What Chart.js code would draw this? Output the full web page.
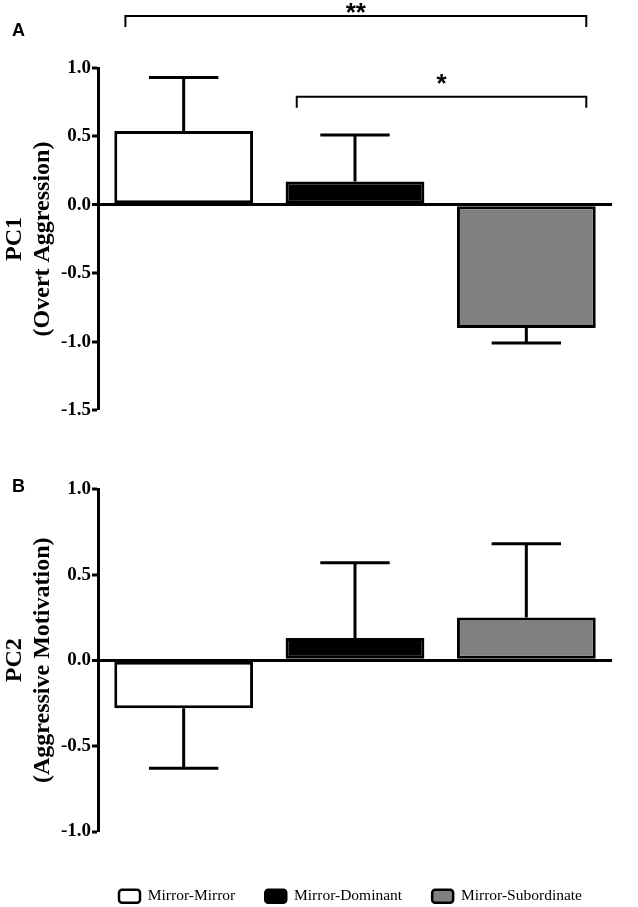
<!DOCTYPE html>
<html>
<head>
<meta charset="utf-8">
<script src="https://cdn.jsdelivr.net/npm/chart.js@4.4.1/dist/chart.umd.min.js"></script>
<style>
  html, body { margin: 0; padding: 0; background: #fff; overflow: hidden; }
  #wrapA { position: absolute; left: 0; top: 0; width: 638px; height: 440px; }
  #wrapB { position: absolute; left: 0; top: 440px; width: 638px; height: 474px; }
</style>
</head>
<body>
<div id="wrapA"><canvas id="chartA"></canvas></div>
<div id="wrapB"><canvas id="chartB"></canvas></div>
<script>
const groups = ["Mirror-Mirror", "Mirror-Dominant", "Mirror-Subordinate"];
const groupColors = ["#ffffff", "#000000", "#808080"];

const pc1Means = [0.54, 0.17, -0.90];
const pc1Errors = [0.39, 0.34, 0.11];
const pc2Means = [-0.28, 0.13, 0.25];
const pc2Errors = [0.35, 0.44, 0.43];

const pc1Ticks = [-1.5, -1.0, -0.5, 0.0, 0.5, 1.0];
const pc2Ticks = [-1.0, -0.5, 0.0, 0.5, 1.0];

// [from group, to group, stars, bracket level, star level]
const pc1Sig = [
  [0, 2, "**", 1.38, 1.43],
  [1, 2, "*", 0.79, 0.91]
];

Chart.defaults.font.family = "'Liberation Serif'";
Chart.defaults.color = "#000";

// error bars, significance brackets and panel letter
const extras = {
  id: "extras",
  afterDatasetsDraw(chart, args, opts) {
    const ctx = chart.ctx;
    const xs = chart.scales.x;
    const ys = chart.scales.y;
    const means = chart.data.datasets[0].data;
    const bars = chart.getDatasetMeta(0).data;
    ctx.save();
    ctx.strokeStyle = "#000";
    ctx.fillStyle = "#000";
    ctx.lineWidth = 3;
    bars.forEach((bar, i) => {
      const m = means[i];
      const end = m >= 0 ? m + opts.errors[i] : m - opts.errors[i];
      const yEnd = ys.getPixelForValue(end);
      const half = bar.width * 0.25;
      ctx.beginPath();
      ctx.moveTo(bar.x, bar.y);
      ctx.lineTo(bar.x, yEnd);
      ctx.moveTo(bar.x - half, yEnd);
      ctx.lineTo(bar.x + half, yEnd);
      ctx.stroke();
    });

    ctx.lineWidth = 2;
    ctx.textAlign = "center";
    ctx.font = "bold 26px 'Liberation Sans'";
    (opts.sig || []).forEach(([a, b, stars, level, starLevel]) => {
      const x1 = xs.getPixelForValue(a - 0.34);
      const x2 = xs.getPixelForValue(b + 0.35);
      const yb = ys.getPixelForValue(level);
      ctx.beginPath();
      ctx.moveTo(x1, yb + 11);
      ctx.lineTo(x1, yb);
      ctx.lineTo(x2, yb);
      ctx.lineTo(x2, yb + 11);
      ctx.stroke();
      ctx.fillText(stars, (x1 + x2) / 2, ys.getPixelForValue(starLevel) + 0.45 * 26);
    });

    ctx.textAlign = "left";
    ctx.font = "bold 18px 'Liberation Sans'";
    ctx.fillText(opts.letter, 12, opts.letterY);
    ctx.restore();
  }
};

function makeChart(id, means, errors, ticks, title, extraOpts, showLegend, padding) {
  return new Chart(document.getElementById(id), {
    type: "bar",
    data: {
      labels: groups,
      datasets: [{
        data: means,
        backgroundColor: groupColors,
        borderColor: "#000",
        borderWidth: 3,
        borderSkipped: false,
        barPercentage: 0.81,
        categoryPercentage: 1
      }]
    },
    options: {
      responsive: true,
      maintainAspectRatio: false,
      animation: false,
      devicePixelRatio: 1,
      layout: { padding },
      plugins: {
        tooltip: { enabled: false },
        extras: extraOpts,
        legend: {
          display: showLegend,
          position: "bottom",
          align: "end",
          labels: {
            boxWidth: 21,
            boxHeight: 13,
            padding: 30,
            color: "#000",
            font: { family: "'Liberation Serif'", size: 15.5 },
            generateLabels: () => groups.map((g, i) => ({
              text: g,
              fillStyle: groupColors[i],
              strokeStyle: "#000",
              lineWidth: 2.5,
              borderRadius: 3,
              hidden: false,
              index: i
            }))
          }
        }
      },
      scales: {
        x: {
          display: showLegend,
          grid: { display: false },
          border: { display: false },
          ticks: { display: false },
          afterFit: s => { s.height = showLegend ? 27 : 0; }
        },
        y: {
          min: ticks[0],
          max: ticks[ticks.length - 1],
          afterBuildTicks: s => { s.ticks = ticks.map(v => ({ value: v })); },
          afterFit: s => { s.width = 98; },
          border: { display: true, color: "#000", width: 3 },
          grid: {
            color: c => (c.tick && c.tick.value === 0 ? "#000" : "rgba(0,0,0,0)"),
            lineWidth: c => (c.tick && c.tick.value === 0 ? 3 : 0),
            tickColor: "#000",
            tickWidth: 3,
            tickLength: 6
          },
          ticks: {
            color: "#000",
            padding: 1,
            font: { family: "'Liberation Serif'", size: 19, weight: "bold" },
            callback: v => Number(v).toFixed(1)
          },
          title: {
            display: true,
            text: title,
            color: "#000",
            padding: { top: 1, bottom: 0 },
            font: { family: "'Liberation Serif'", size: 24, weight: "bold", lineHeight: 1.15 }
          }
        }
      }
    },
    plugins: [extras]
  });
}

makeChart("chartA", pc1Means, pc1Errors, pc1Ticks,
  ["PC1", "(Overt Aggression)"],
  { errors: pc1Errors, sig: pc1Sig, letter: "A", letterY: 36 },
  false, { top: 68, right: 26, bottom: 30, left: 0 });

makeChart("chartB", pc2Means, pc2Errors, pc2Ticks,
  ["PC2", "(Aggressive Motivation)"],
  { errors: pc2Errors, sig: [], letter: "B", letterY: 47 },
  true, { top: 49, right: 26, bottom: 0, left: 0 });
</script>
</body>
</html>
